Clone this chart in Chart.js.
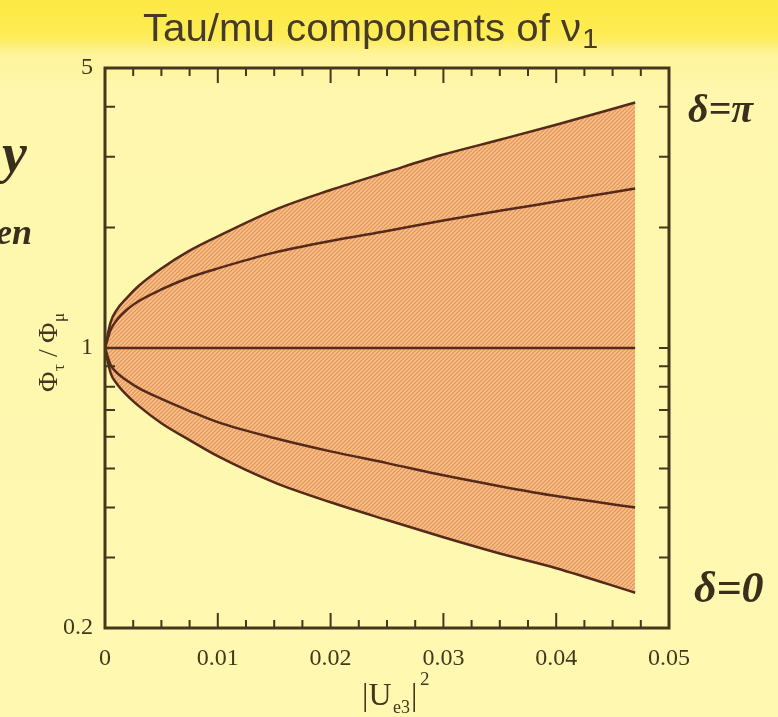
<!DOCTYPE html>
<html>
<head>
<meta charset="utf-8">
<script src="https://cdn.jsdelivr.net/npm/chart.js@4.4.0/dist/chart.umd.min.js"></script>
<style>
  html, body { margin: 0; padding: 0; }
  body {
    width: 778px; height: 717px; overflow: hidden;
    background: linear-gradient(to bottom, #fde943 0px, #fdec55 36px, #fef49a 54px, #fef7ad 90px, #fef8b1 717px);
  }
</style>
</head>
<body>
<canvas id="c" width="778" height="717"></canvas>
<script>
// |Ue3|^2 sample points and the five curves
const ue3sq = [0, 0.0005, 0.001, 0.002, 0.003, 0.005, 0.0075, 0.01, 0.015, 0.02, 0.025, 0.03, 0.035, 0.04, 0.047]
const upperEdge = [1, 1.16, 1.24, 1.34, 1.43, 1.58, 1.75, 1.90, 2.21, 2.48, 2.75, 3.04, 3.31, 3.61, 4.10]
const upperMid = [1, 1.11, 1.17, 1.25, 1.31, 1.40, 1.50, 1.58, 1.73, 1.85, 1.96, 2.08, 2.20, 2.32, 2.50]
const central = [1, 1, 1, 1, 1, 1, 1, 1, 1, 1, 1, 1, 1, 1, 1]
const lowerMid = [1, 0.907, 0.871, 0.827, 0.794, 0.746, 0.696, 0.653, 0.596, 0.552, 0.516, 0.481, 0.452, 0.427, 0.40]
const lowerEdge = [1, 0.866, 0.818, 0.759, 0.716, 0.649, 0.589, 0.537, 0.462, 0.412, 0.372, 0.337, 0.307, 0.282, 0.245]

const xTickValues = [0, 0.0025, 0.005, 0.0075, 0.01, 0.0125, 0.015, 0.0175, 0.02, 0.0225, 0.025, 0.0275, 0.03, 0.0325, 0.035, 0.0375, 0.04, 0.0425, 0.045, 0.0475, 0.05]
const xTickLabels = ['0', '', '', '', '0.01', '', '', '', '0.02', '', '', '', '0.03', '', '', '', '0.04', '', '', '', '0.05']
const yTickValues = [0.2, 0.3, 0.4, 0.5, 0.6, 0.7, 0.8, 0.9, 1, 2, 3, 4, 5]
const yTickLabels = ['0.2', '', '', '', '', '', '', '', '1', '', '', '', '5']

const ink = '#46361b'
const curveInk = '#552a1a'
const serif = "'Liberation Serif', 'DejaVu Serif', serif"

const canvas = document.getElementById('c')
const ctx = canvas.getContext('2d')

// hatched orange fill
const pc = document.createElement('canvas')
pc.width = 4
pc.height = 4
const p = pc.getContext('2d')
p.fillStyle = '#e8965e'
p.fillRect(0, 0, 4, 4)
p.strokeStyle = '#f6c88e'
p.lineWidth = 1.3
p.beginPath()
p.moveTo(0, 4); p.lineTo(4, 0)
p.moveTo(-1, 1); p.lineTo(1, -1)
p.moveTo(3, 5); p.lineTo(5, 3)
p.stroke()
const hatch = ctx.createPattern(pc, 'repeat')

const pts = arr => ue3sq.map((x, i) => ({x: x, y: arr[i]}))

const mkSet = (arr, fill) => ({
  data: pts(arr),
  borderColor: curveInk,
  borderWidth: 2.5,
  pointRadius: 0,
  cubicInterpolationMode: 'monotone',
  fill: fill,
  backgroundColor: hatch
})

//frame, inward ticks, titles and the hand notes
const decorations = {
  id: 'decorations',
  afterDraw(chart) {
    const c = chart.ctx
    const a = chart.chartArea
    const x = chart.scales.x
    const y = chart.scales.y
    c.save()
    c.strokeStyle = ink
    c.lineWidth = 2
    c.beginPath()
    xTickValues.forEach((v, i) => {
      const px = x.getPixelForValue(v)
      const len = xTickLabels[i] ? 15 : 8
      c.moveTo(px, a.bottom); c.lineTo(px, a.bottom - len)
      c.moveTo(px, a.top); c.lineTo(px, a.top + len)
    })
    yTickValues.forEach(v => {
      const py = y.getPixelForValue(v)
      c.moveTo(a.left, py); c.lineTo(a.left + 10, py)
      c.moveTo(a.right, py); c.lineTo(a.right - 10, py)
    })
    c.stroke()
    c.lineWidth = 3
    c.strokeRect(a.left, a.top, a.right - a.left, a.bottom - a.top)

    // chart title
    c.fillStyle = '#463a28'
    c.textBaseline = 'alphabetic'
    c.font = "38px 'Liberation Sans', Arial, sans-serif"
    const t = 'Tau/mu components of \u03bd'
    const w = c.measureText(t).width
    c.font = "27px 'Liberation Sans', Arial, sans-serif"
    const w1 = c.measureText('1').width
    const sx = 454 / (w + w1)
    c.save()
    c.translate(143, 41)
    c.scale(sx, 1)
    c.font = "38px 'Liberation Sans', Arial, sans-serif"
    c.fillText(t, 0, 0)
    c.font = "27px 'Liberation Sans', Arial, sans-serif"
    c.fillText('1', w + 1, 7)
    c.restore()

    // x axis title |Ue3|^2
    c.fillStyle = ink
    c.font = '32px ' + serif
    c.fillText('|U', 362, 705)
    c.font = '18px ' + serif
    c.fillText('e3', 393, 713)
    c.font = '32px ' + serif
    c.fillText('|', 411, 705)
    c.font = '19px ' + serif
    c.fillText('2', 420, 685)

    // y axis title phi_tau / phi_mu
    c.save()
    c.translate(57, 392)
    c.rotate(-Math.PI / 2)
    c.font = '28px ' + serif
    c.fillText('\u03a6', 0, 0)
    c.font = '17px ' + serif
    c.fillText('\u03c4', 21, 7)
    c.font = '28px ' + serif
    c.fillText('/', 35, 0)
    c.fillText('\u03a6', 49, 0)
    c.font = '17px ' + serif
    c.fillText('\u03bc', 70, 7)
    c.restore()

    // handwritten notes
    c.fillStyle = '#3a2e1c'
    c.font = 'italic bold 40px ' + serif
    c.fillText('\u03b4=\u03c0', 688, 122)
    c.font = 'italic bold 44px ' + serif
    c.fillText('\u03b4=0', 694, 602)
    c.font = 'italic bold 56px ' + serif
    c.fillText('y', 2, 172)
    c.font = 'italic bold 36px ' + serif
    c.fillText('en', -4, 244)
    c.restore()
  }
}

new Chart(canvas, {
  type: 'line',
  data: {
    datasets: [
      mkSet(upperEdge, 4),
      mkSet(upperMid, false),
      mkSet(central, false),
      mkSet(lowerMid, false),
      mkSet(lowerEdge, false)
    ]
  },
  options: {
    responsive: false,
    animation: false,
    devicePixelRatio: 1,
    layout: { padding: { top: 68, right: 109, left: 0, bottom: 0 } },
    plugins: {
      legend: { display: false },
      tooltip: { enabled: false },
      filler: { drawTime: 'beforeDatasetsDraw' }
    },
    scales: {
      x: {
        type: 'linear',
        min: 0,
        max: 0.05,
        grid: { display: false },
        border: { display: false },
        afterBuildTicks: s => { s.ticks = xTickValues.map(v => ({value: v})) },
        afterFit: s => { s.height = 89 },
        ticks: {
          autoSkip: false,
          maxRotation: 0,
          padding: 8,
          color: ink,
          font: { family: serif, size: 24 },
          callback: (v, i) => xTickLabels[i]
        }
      },
      y: {
        type: 'logarithmic',
        min: 0.2,
        max: 5,
        grid: { display: false },
        border: { display: false },
        afterBuildTicks: s => { s.ticks = yTickValues.map(v => ({value: v})) },
        afterFit: s => { s.width = 105 },
        ticks: {
          autoSkip: false,
          padding: 4,
          color: ink,
          font: { family: serif, size: 24 },
          callback: (v, i) => yTickLabels[i]
        }
      }
    }
  },
  plugins: [decorations]
})
</script>
</body>
</html>
